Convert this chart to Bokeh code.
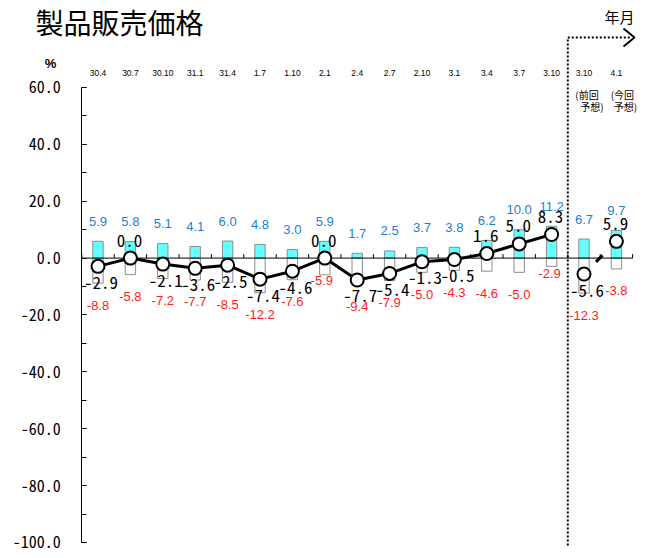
from bokeh.plotting import figure
from bokeh.models import Range1d, LinearAxis, SingleIntervalTicker, NumeralTickFormatter, ColumnDataSource
from bokeh.core.properties import value
from bokeh.embed import file_html
from bokeh.resources import INLINE

# ---------------- data ----------------
title_text = "製品販売価格"
unit_text = "%"
period_text = "年月"
categories = ["30.4", "30.7", "30.10", "31.1", "31.4", "1.7", "1.10", "2.1", "2.4",
              "2.7", "2.10", "3.1", "3.4", "3.7", "3.10", "3.10", "4.1"]
rise = [5.9, 5.8, 5.1, 4.1, 6.0, 4.8, 3.0, 5.9, 1.7, 2.5, 3.7, 3.8, 6.2, 10.0, 11.2, 6.7, 9.7]
fall = [-8.8, -5.8, -7.2, -7.7, -8.5, -12.2, -7.6, -5.9, -9.4, -7.9, -5.0, -4.3, -4.6, -5.0,
        -2.9, -12.3, -3.8]
net = [-2.9, 0.0, -2.1, -3.6, -2.5, -7.4, -4.6, 0.0, -7.7, -5.4, -1.3, -0.5, 1.6, 5.0, 8.3,
       -5.6, 5.9]
n_actual = 15  # first 15 points are actual results, the last two are forecasts
forecast_notes_1 = ["(前回", "(今回"]
forecast_notes_2 = ["予想)", "予想)"]
y_min, y_max, y_step = -100, 60, 20

# ---------------- layout helpers (page pixel -> data) ----------------
W, H = 643, 556
X0, SX = 97.5, 32.4        # page x of first category, px per category
Y0, SY = 257.6, 2.84375    # page y of zero, px per unit


def X(px):
    return (px - X0) / SX


def Y(py):
    return (Y0 - py) / SY


MONO_STR = "'Noto Sans Mono CJK JP', 'DejaVu Sans Mono', monospace"
MONO = value(MONO_STR)
SANS = value("Liberation Sans")
CJK = value("Noto Sans CJK JP")

p = figure(width=W, height=H, x_range=Range1d(X(0), X(W)),
           y_range=Range1d(Y(H), Y(0)), output_backend="svg",
           toolbar_location=None, x_axis_location=None, y_axis_location=None,
           min_border=0, min_border_left=0, min_border_right=0,
           min_border_top=0, min_border_bottom=0)
p.outline_line_color = None
for g in p.grid:
    g.visible = False
p.background_fill_color = "white"

n = len(categories)
xs = list(range(n))

# y axis
yaxis = LinearAxis(fixed_location=-0.5, bounds=(y_min, y_max),
                   ticker=SingleIntervalTicker(interval=y_step, num_minor_ticks=2),
                   formatter=NumeralTickFormatter(format="0.0"),
                   major_tick_in=5, major_tick_out=0, minor_tick_in=5, minor_tick_out=0,
                   major_label_standoff=21, major_label_text_font=MONO_STR,
                   major_label_text_font_size="16px", major_label_text_color="black",
                   axis_line_color="black", major_tick_line_color="black",
                   minor_tick_line_color="black")
p.add_layout(yaxis, "left")

src = ColumnDataSource(dict(x=xs, rise=rise, fall=fall, net=net))
p.vbar(x="x", top="rise", bottom=0, width=0.32, source=src,
       fill_color="#66FFFF", line_color="#8C8C8C", line_width=1)
p.vbar(x="x", top=0, bottom="fall", width=0.32, source=src,
       fill_color="white", line_color="#8C8C8C", line_width=1)

# zero line with category separators (ticks pointing up)
p.segment(x0=[-0.5], y0=[0], x1=[n - 0.5], y1=[0], line_color="black", line_width=1)
seps = [i - 0.5 for i in range(n + 1)]
p.segment(x0=seps, y0=[0] * len(seps), x1=seps, y1=[4 / SY] * len(seps),
          line_color="black", line_width=1)

# actual-result line
p.line(xs[:n_actual], net[:n_actual], line_color="black", line_width=3)
# short visible piece of the forecast connector
a, b = n_actual, n_actual + 1
f0, f1 = 0.37, 0.57
p.line([xs[a] + (xs[b] - xs[a]) * f0, xs[a] + (xs[b] - xs[a]) * f1],
       [net[a] + (net[b] - net[a]) * f0, net[a] + (net[b] - net[a]) * f1],
       line_color="black", line_width=3)

p.scatter(x="x", y="net", source=src, size=13, marker="circle",
          fill_color="white", line_color="black", line_width=2)

# bar value labels
p.text(x=xs, y=rise, text=[f"{v:.1f}" for v in rise], text_align="center",
       text_baseline="middle", y_offset=-20, text_color="#2080D8",
       text_font=SANS, text_font_size="13px")
fall_dy = [22] * n
fall_dx = [0] * n
fall_dy[7], fall_dx[7] = 6, -3
fall_dy[14], fall_dx[14] = 7, -2
p.text(x=xs, y=fall, text=[f"{v:.1f}" for v in fall], text_align="center",
       text_baseline="middle", y_offset=fall_dy, x_offset=fall_dx, text_color="#FF1A1A",
       text_font=SANS, text_font_size="13px")

# net value labels
p.text(x=xs, y=net, text=[f"{v:.1f}" for v in net], text_align="center",
       text_baseline="middle",
       y_offset=[-18 if v >= 0 else 16 for v in net],
       x_offset=[-1 if v >= 0 else 3 for v in net],
       text_color="black", text_font=MONO, text_font_size="17px")

# category labels on top
p.text(x=xs, y=[Y(72)] * n, text=categories, text_align="center", text_baseline="middle",
       text_color="black", text_font=SANS, text_font_size="8.5px")

# forecast notes
p.text(x=xs[n_actual:], y=[Y(94)] * 2, text=forecast_notes_1, x_offset=[3, 6],
       text_align="center", text_baseline="middle", text_color="black",
       text_font=CJK, text_font_size="10px")
p.text(x=xs[n_actual:], y=[Y(106)] * 2, text=forecast_notes_2, x_offset=[8, 9],
       text_align="center", text_baseline="middle", text_color="black",
       text_font=CJK, text_font_size="10px")

# forecast divider and arrow
p.line([n_actual - 0.5, n_actual - 0.5, X(630)], [Y(545), Y(37), Y(37)],
       line_color="black", line_width=2, line_dash="2 2")
p.line([X(623), X(634), X(623)], [Y(28), Y(37), Y(46)], line_color="black", line_width=2)

# titles
p.text(x=[X(35)], y=[Y(21)], text=[title_text], text_align="left", text_baseline="middle",
       text_color="black", text_font=CJK, text_font_size="28px")
p.text(x=[X(50)], y=[Y(63)], text=[unit_text], text_align="center", text_baseline="middle",
       text_color="black", text_font=SANS, text_font_size="13px", text_font_style="bold")
p.text(x=[X(619)], y=[Y(16)], text=[period_text], text_align="center",
       text_baseline="middle", text_color="black", text_font=CJK, text_font_size="15px")

open("out.html", "w").write(file_html(p, INLINE))
